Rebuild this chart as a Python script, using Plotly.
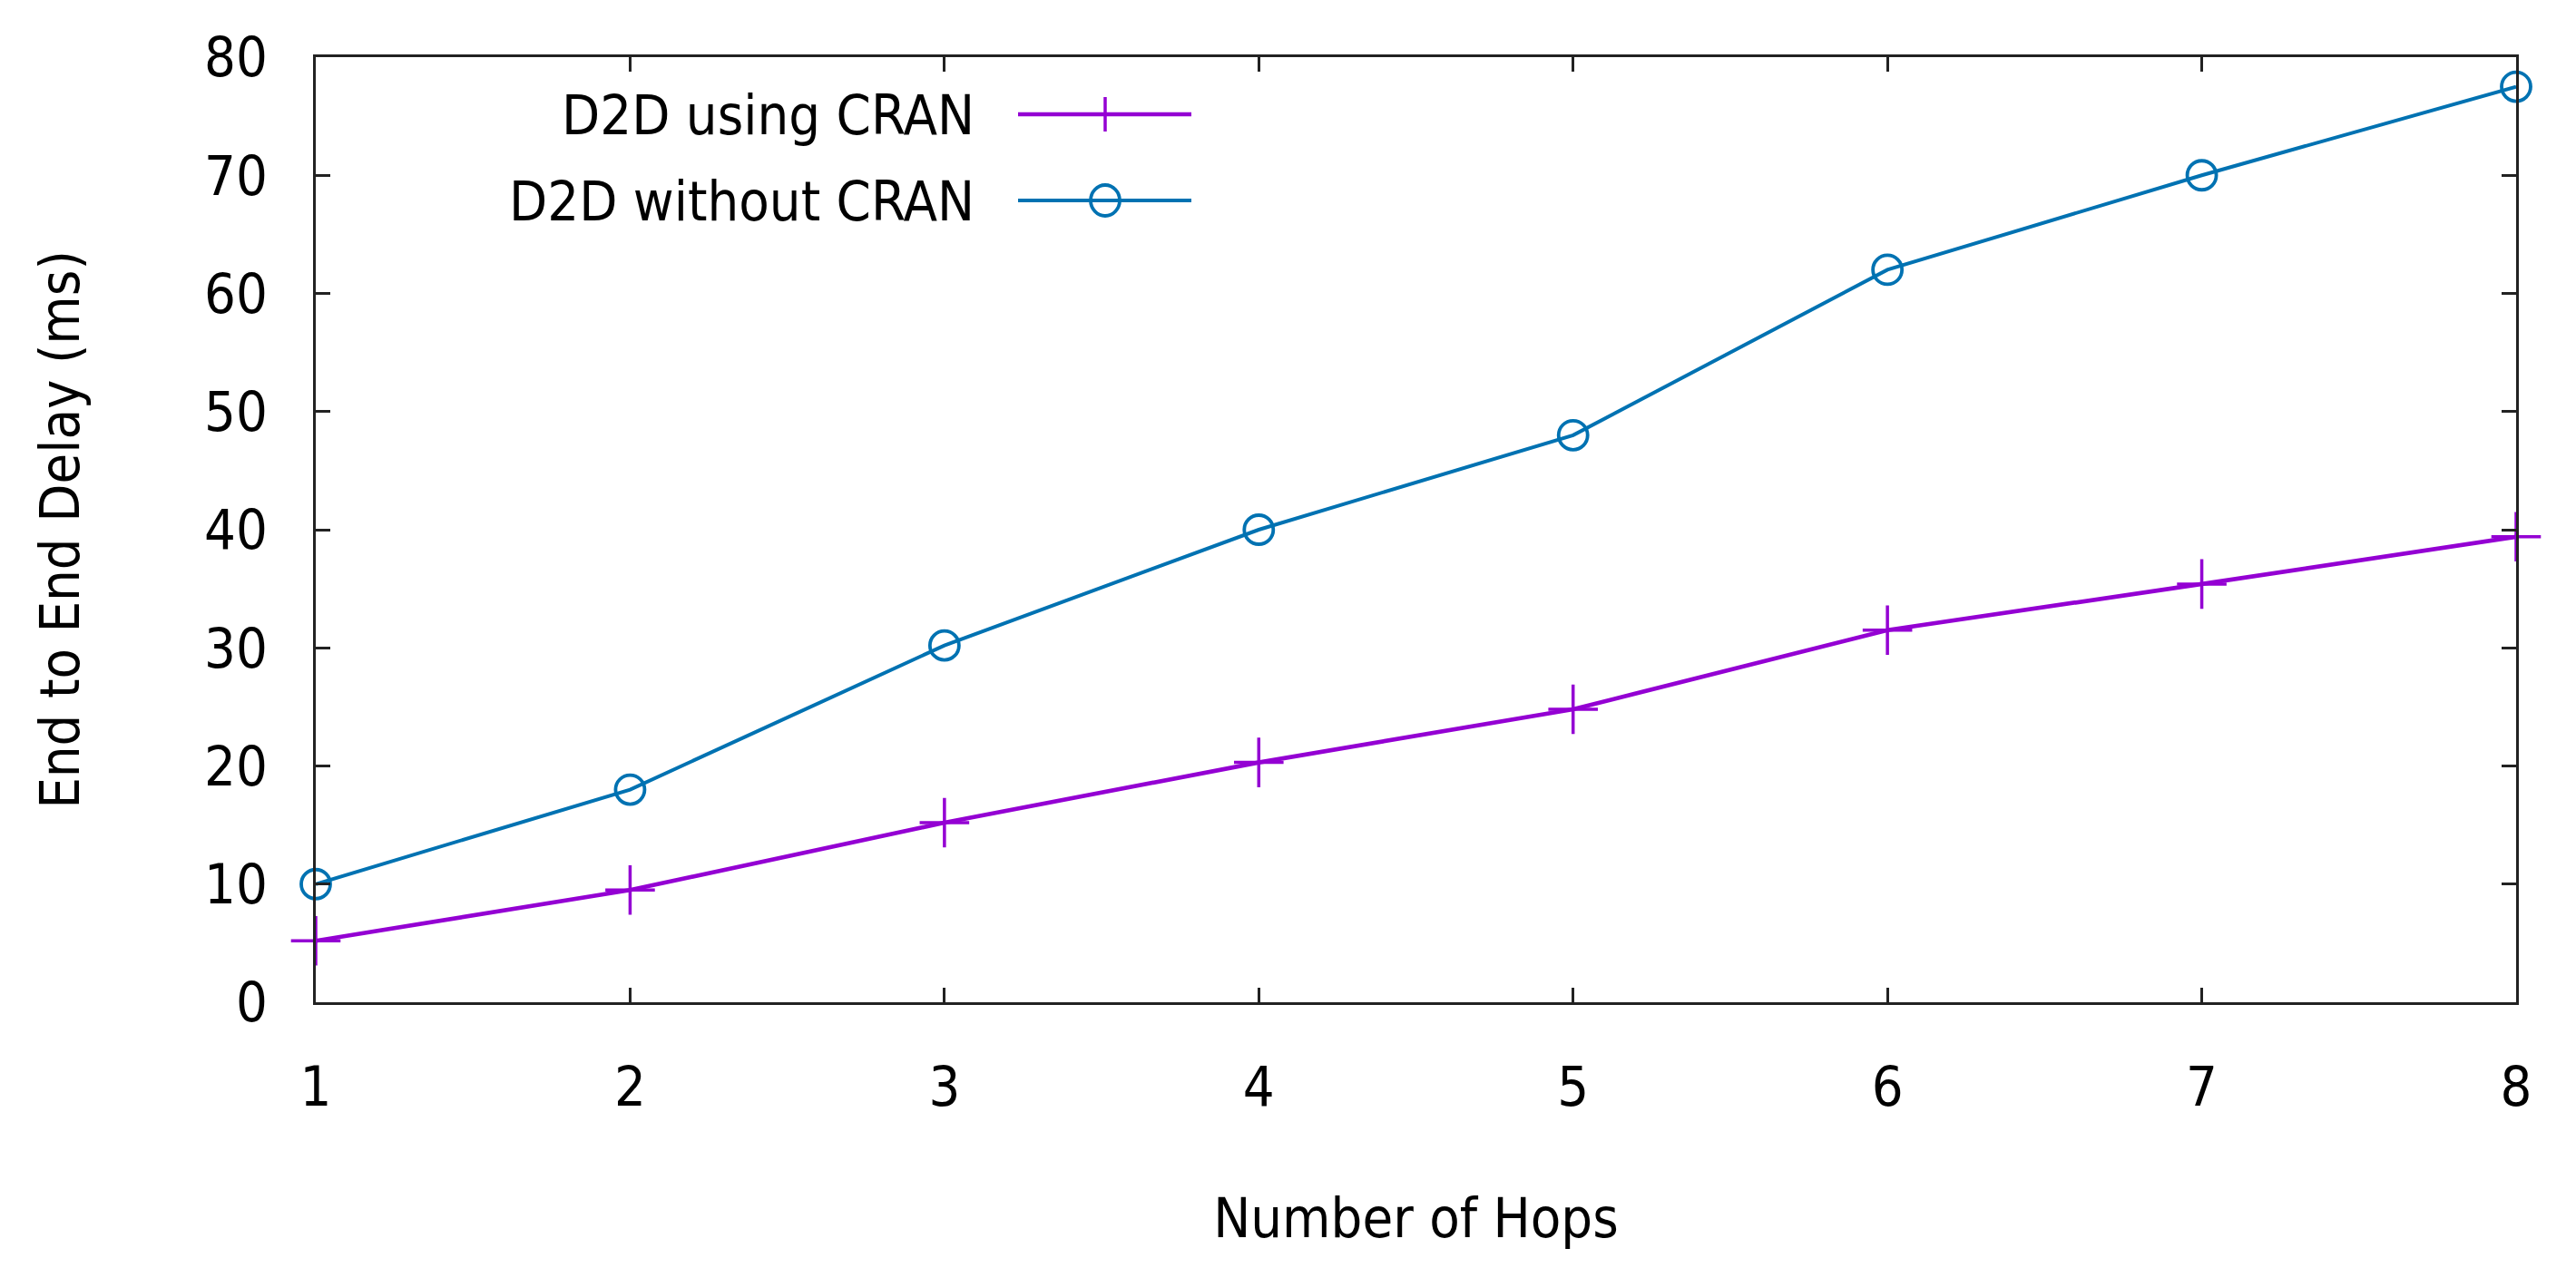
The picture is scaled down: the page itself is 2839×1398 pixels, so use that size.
import plotly.graph_objects as go

hops = [1, 2, 3, 4, 5, 6, 7, 8]
delay_using_cran = [5.2, 9.5, 15.2, 20.3, 24.8, 31.5, 35.4, 39.4]
delay_without_cran = [10.0, 18.0, 30.2, 40.0, 48.0, 62.0, 70.0, 77.5]
series_names = ["D2D using CRAN", "D2D without CRAN"]
x_title = "Number of Hops"
y_title = "End to End Delay (ms)"
y_ticks = [0, 10, 20, 30, 40, 50, 60, 70, 80]

PURPLE = "#9400D3"
BLUE = "#0072B2"
FONT = "Tahoma, 'DejaVu Sans Condensed', 'Liberation Sans', sans-serif"
FS = 61

W, H = 2839, 1398
L, R, T, B = 340, 74, 55, 301

fig = go.Figure()
fig.add_trace(go.Scatter(
    x=hops, y=delay_using_cran, name=series_names[0], mode="lines+markers",
    line=dict(color=PURPLE, width=4.7),
    marker=dict(symbol="cross-thin", size=39, line=dict(color=PURPLE, width=3.5)),
    cliponaxis=False, showlegend=False))
fig.add_trace(go.Scatter(
    x=hops, y=delay_without_cran, name=series_names[1], mode="lines+markers",
    line=dict(color=BLUE, width=4),
    marker=dict(symbol="circle-open", size=32, color=BLUE, line=dict(color=BLUE, width=3.8)),
    cliponaxis=False, showlegend=False))

axis_common = dict(
    showgrid=False, zeroline=False, showline=True, linecolor="#222222", linewidth=2.7,
    mirror="ticks", ticks="inside", ticklen=16, tickwidth=2.5, tickcolor="#222222",
    tickfont=dict(family=FONT, size=FS, color="black"),
)
fig.update_xaxes(range=[1, 8], tickvals=hops, ticklabelstandoff=38,
                 title=dict(text=x_title, font=dict(family=FONT, size=FS, color="black"), standoff=90),
                 **axis_common)
fig.update_yaxes(range=[0, 80], tickvals=y_ticks, ticklabelstandoff=38,
                 title=dict(text=y_title, font=dict(family=FONT, size=FS, color="black"), standoff=118),
                 **axis_common)

# gnuplot-style key: right-aligned labels with line samples to their right
pw = W - L - R
ph = H - T - B
def px_x(p):
    return (p - L) / pw
def px_y(p):
    return (H - B - p) / ph

text_right = px_x(1068)
s0, s1 = px_x(1114), px_x(1305)
sc = px_x(1210)
rows = [px_y(118), px_y(213)]
colors = [PURPLE, BLUE]
widths = [4.7, 4]
for name, yy, col, lw in zip(series_names, rows, colors, widths):
    fig.add_annotation(xref="paper", yref="paper", x=text_right, y=yy, text=name,
                       showarrow=False, xanchor="right", yanchor="middle",
                       font=dict(family=FONT, size=FS, color="black"))
    fig.add_shape(type="line", xref="paper", yref="paper", x0=s0, x1=s1, y0=yy, y1=yy,
                  line=dict(color=col, width=lw))
fig.add_shape(type="line", xref="paper", yref="paper", xsizemode="pixel", ysizemode="pixel",
              xanchor=sc, yanchor=rows[0], x0=0, x1=0, y0=-19, y1=19,
              line=dict(color=PURPLE, width=3.5))
fig.add_shape(type="circle", xref="paper", yref="paper", xsizemode="pixel", ysizemode="pixel",
              xanchor=sc, yanchor=rows[1], x0=-16, x1=16, y0=-17, y1=17,
              line=dict(color=BLUE, width=3.8))

fig.update_layout(
    width=W, height=H, margin=dict(l=L, r=R, t=T, b=B, autoexpand=False),
    plot_bgcolor="white", paper_bgcolor="white",
    font=dict(family=FONT, size=FS, color="black"),
)
fig.write_html("out.html")
